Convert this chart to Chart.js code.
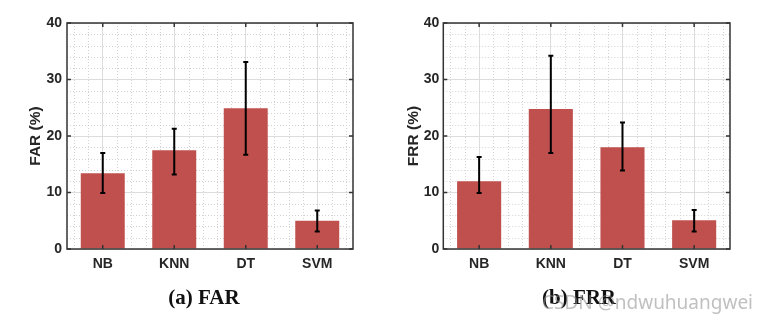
<!DOCTYPE html>
<html>
<head>
<meta charset="utf-8">
<script src="https://cdn.jsdelivr.net/npm/chart.js@4/dist/chart.umd.min.js"></script>
<style>
  body { margin: 0; background: #fff; width: 767px; height: 326px; position: relative; overflow: hidden; }
  .box { position: absolute; top: 0; height: 326px; }
  .cap { position: absolute; font-family: 'Liberation Serif', serif; font-weight: bold; font-size: 21px; color: #111; white-space: nowrap; transform: translate(-50%, -50%); }
  .mark { position: absolute; font-family: 'Noto Sans', sans-serif; font-size: 19px; color: rgba(140,140,140,0.55); white-space: nowrap; }
</style>
</head>
<body>
<div class="box" style="left:0;width:383px"><canvas id="far"></canvas></div>
<div class="box" style="left:383px;width:384px"><canvas id="frr"></canvas></div>
<div class="cap" style="left:204px;top:297px">(a) FAR</div>
<div class="cap" style="left:579px;top:297px">(b) FRR</div>
<div class="mark" style="left:542px;top:289px">CSDN @ndwuhuangwei</div>
<script>
// classifiers on the x axis
var classifiers = ['NB', 'KNN', 'DT', 'SVM'];

// FAR (%) mean and error range
var farMean = [13.4, 17.5, 24.9, 5.0];
var farLow  = [9.9, 13.2, 16.7, 3.1];
var farHigh = [17.0, 21.3, 33.1, 6.8];

// FRR (%) mean and error range
var frrMean = [12.0, 24.8, 18.0, 5.1];
var frrLow  = [9.9, 17.0, 13.9, 3.1];
var frrHigh = [16.3, 34.2, 22.4, 6.9];

var yTicks = [0, 10, 20, 30, 40];

var barColor = '#c0504d';
var ink = '#262626';

Chart.defaults.font.family = "'Liberation Sans', Arial, sans-serif";
Chart.defaults.color = ink;

// matlab style box: minor dotted grid, inward ticks, error bars
var matlabBox = {
  id: 'matlabBox',
  beforeDatasetsDraw(chart) {
    var ctx = chart.ctx, a = chart.chartArea;
    var xs = chart.scales.x, ys = chart.scales.y;
    var step = xs.getPixelForValue(1) - xs.getPixelForValue(0);
    ctx.save();
    ctx.strokeStyle = '#d2d2d2';
    ctx.lineWidth = 1;
    ctx.setLineDash([1, 2]);
    ctx.beginPath();
    classifiers.forEach((c, i) => {
      [-0.4, -0.2, 0.2, 0.4].forEach(k => {
        var x = Math.round(xs.getPixelForValue(i) + k * step) + 0.5;
        ctx.moveTo(x, a.top); ctx.lineTo(x, a.bottom);
      });
    });
    for (var v = 2; v < 40; v += 2) {
      if (v % 10 == 0) continue;
      var y = Math.round(ys.getPixelForValue(v)) + 0.5;
      ctx.moveTo(a.left, y); ctx.lineTo(a.right, y);
    }
    ctx.stroke();
    ctx.restore();
  },
  afterDatasetsDraw(chart, args, opts) {
    var ctx = chart.ctx, a = chart.chartArea;
    var xs = chart.scales.x, ys = chart.scales.y;
    ctx.save();
    // error bars
    ctx.strokeStyle = '#000';
    ctx.lineWidth = 2;
    opts.low.forEach((lo, i) => {
      var x = xs.getPixelForValue(i);
      var y1 = ys.getPixelForValue(lo), y2 = ys.getPixelForValue(opts.high[i]);
      ctx.beginPath();
      ctx.moveTo(x, y1); ctx.lineTo(x, y2);
      ctx.moveTo(x - 2.5, y1); ctx.lineTo(x + 2.5, y1);
      ctx.moveTo(x - 2.5, y2); ctx.lineTo(x + 2.5, y2);
      ctx.stroke();
    });
    // box
    ctx.strokeStyle = '#333';
    ctx.lineWidth = 1.5;
    ctx.strokeRect(a.left, a.top, a.right - a.left, a.bottom - a.top);
    // inward ticks
    ctx.beginPath();
    yTicks.forEach(v => {
      var y = ys.getPixelForValue(v);
      ctx.moveTo(a.left, y); ctx.lineTo(a.left + 4, y);
      ctx.moveTo(a.right, y); ctx.lineTo(a.right - 4, y);
    });
    classifiers.forEach((c, i) => {
      var x = xs.getPixelForValue(i);
      ctx.moveTo(x, a.bottom); ctx.lineTo(x, a.bottom - 4);
      ctx.moveTo(x, a.top); ctx.lineTo(x, a.top + 4);
    });
    ctx.stroke();
    ctx.restore();
  }
};

function makeChart(id, mean, low, high, title, padLeft, padRight, yWidth, tickPad) {
  return new Chart(document.getElementById(id), {
    type: 'bar',
    data: {
      labels: classifiers,
      datasets: [{
        data: mean,
        backgroundColor: barColor,
        borderWidth: 0,
        barPercentage: 0.615,
        categoryPercentage: 1
      }]
    },
    options: {
      responsive: false,
      animation: false,
      layout: { padding: { top: 23, right: padRight, bottom: 0, left: padLeft } },
      plugins: {
        legend: { display: false },
        tooltip: { enabled: false },
        matlabBox: { low: low, high: high }
      },
      scales: {
        x: {
          grid: { offset: false, color: '#dcdcdc', lineWidth: 1, drawTicks: false },
          border: { display: false },
          ticks: { padding: 7, font: { size: 14, weight: 'bold' }, color: ink },
          afterFit: s => { s.height = 77; }
        },
        y: {
          min: 0, max: 40,
          ticks: { stepSize: 10, padding: tickPad, font: { size: 14, weight: 'bold' }, color: ink },
          grid: { color: '#dcdcdc', lineWidth: 1, drawTicks: false },
          border: { display: false },
          title: { display: true, text: title, color: ink, padding: { top: 4, bottom: 0 }, font: { size: 15.5, weight: 'bold' } },
          afterFit: s => { s.width = yWidth; }
        }
      }
    },
    plugins: [matlabBox]
  });
}

var c1 = document.getElementById('far'); c1.width = 383; c1.height = 326;
var c2 = document.getElementById('frr'); c2.width = 384; c2.height = 326;
makeChart('far', farMean, farLow, farHigh, 'FAR (%)', 22, 30, 45, 5);
makeChart('frr', frrMean, frrLow, frrHigh, 'FRR (%)', 17, 37, 43.3, 4);
</script>
</body>
</html>
